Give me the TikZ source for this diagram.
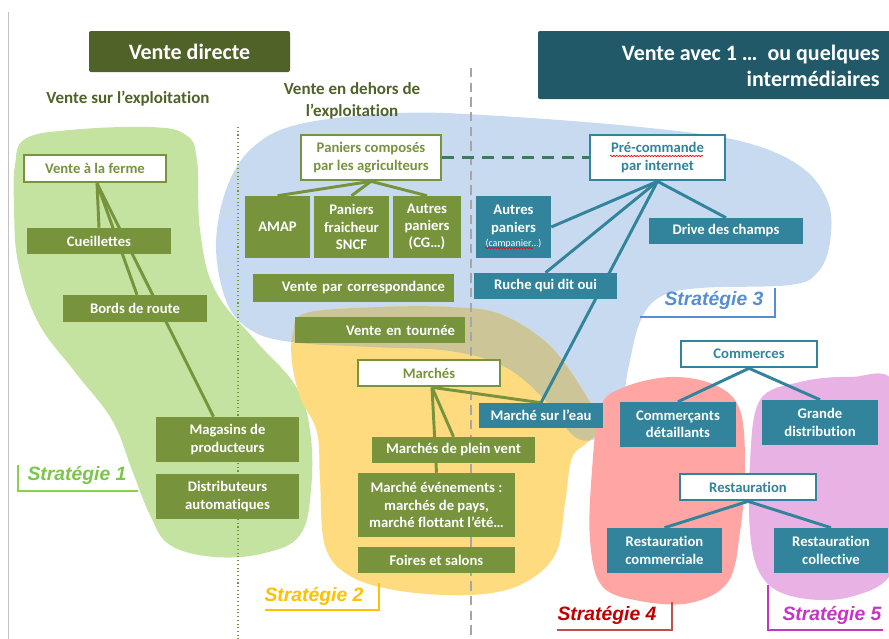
\documentclass[tikz,border=0pt]{standalone}
\usepackage{fontspec}
\setmainfont{Carlito}[Ligatures=NoCommon]
\newfontfamily\arialf{Liberation Sans}
\usetikzlibrary{calc,decorations.pathmorphing}
\pgfdeclarelayer{bg}
\pgfdeclarelayer{lines}
\pgfsetlayers{bg,lines,main}
\definecolor{olv}{HTML}{77933C}
\definecolor{olvdark}{HTML}{4F6228}
\definecolor{tl}{HTML}{31849B}
\definecolor{tldark}{HTML}{215968}
\definecolor{blobgreen}{HTML}{C4E3A1}
\definecolor{blobblue}{HTML}{C8DAF0}
\definecolor{blobyellow}{HTML}{FFDB80}
\definecolor{bloboverlap}{HTML}{CBC598}
\definecolor{blobpink}{HTML}{FFA6A5}
\definecolor{blobpurple}{HTML}{E8B2E5}
\definecolor{sA}{HTML}{7CC44A}
\definecolor{sAline}{HTML}{8CD050}
\definecolor{sB}{HTML}{FFC000}
\definecolor{sC}{HTML}{558ED5}
\definecolor{sD}{HTML}{C00000}
\definecolor{sDline}{HTML}{C0504D}
\definecolor{sE}{HTML}{C336C3}
\definecolor{greyline}{HTML}{A6A6A6}
\definecolor{dashgreen}{HTML}{3D7B5E}
\tikzset{
  wh/.style 2 args={minimum width=#1*0.75pt, minimum height=#2*0.75pt},
  base/.style={inner sep=0pt, align=center, font=\bfseries\fontsize{11}{13}\selectfont},
  obox/.style={base, fill=olv, text=white},
  tbox/.style={base, fill=tl, text=white},
  owbox/.style={base, fill=white, draw=olv, line width=2pt, text=olv},
  twbox/.style={base, fill=white, draw=tl, line width=2pt, text=tl},
  oline/.style={draw=olv, line width=2.2pt},
  tline/.style={draw=tl, line width=2.2pt},
  strat/.style={font=\arialf\bfseries\itshape\fontsize{14.5}{17}\selectfont, inner sep=0pt},
  brk/.style={line width=2pt},
  hdr/.style={font=\bfseries\fontsize{12.75}{16.5}\selectfont, text=olvdark, align=center, inner sep=0pt},
  bighdr/.style={font=\bfseries\fontsize{16.5}{19.5}\selectfont, text=white, inner sep=0pt},
  wavy/.style={draw=red, line width=0.5pt, decorate, decoration={snake, amplitude=0.5pt, segment length=2.2pt}},
}
\begin{document}
\begin{tikzpicture}[x=0.75pt,y=-0.75pt]
\useasboundingbox (0,0) rectangle (889,639);

% ---------- blobs ----------
\begin{pgfonlayer}{bg}
\fill[blobgreen] plot[smooth cycle, tension=0.65] coordinates {
 (15,165) (25,139) (70,130) (150,127) (186,135) (197,160) (200,230) (215,290)
 (255,340) (295,385) (310,430) (311,490) (300,535) (265,553) (215,557)
 (170,545) (150,515) (132,470) (112,420) (75,372) (38,322) (18,262) (14,205)};
\fill[blobblue] plot[smooth cycle, tension=0.6] coordinates {
 (216,248) (226,190) (252,148) (300,124) (400,113) (500,116) (640,127)
 (740,141) (800,166) (828,202) (830,242) (818,272) (790,285) (700,288)
 (660,297) (640,322) (628,370) (620,415) (600,437) (575,437) (545,400)
 (505,367) (450,351) (370,347) (300,343) (256,333) (228,305)};
\fill[blobyellow] plot[smooth cycle, tension=0.6] coordinates {
 (293,333) (306,313) (380,307) (450,307) (500,314) (548,344) (582,389)
 (600,426) (588,442) (572,458) (565,503) (555,555) (520,585) (470,595)
 (400,591) (350,576) (325,546) (320,480) (317,432) (300,397) (292,362)};
\begin{scope}
\clip plot[smooth cycle, tension=0.6] coordinates {
 (216,248) (226,190) (252,148) (300,124) (400,113) (500,116) (640,127)
 (740,141) (800,166) (828,202) (830,242) (818,272) (790,285) (700,288)
 (660,297) (640,322) (628,370) (620,415) (600,437) (575,437) (545,400)
 (505,367) (450,351) (370,347) (300,343) (256,333) (228,305)};
\fill[bloboverlap] plot[smooth cycle, tension=0.6] coordinates {
 (293,333) (306,313) (380,307) (450,307) (500,314) (548,344) (582,389)
 (600,426) (588,442) (572,458) (565,503) (555,555) (520,585) (470,595)
 (400,591) (350,576) (325,546) (320,480) (317,432) (300,397) (292,362)};
\end{scope}
\fill[blobpink] plot[smooth cycle, tension=0.6] coordinates {
 (600,408) (622,388) (670,377) (715,385) (740,410) (745,470) (740,532)
 (728,582) (690,603) (640,601) (602,586) (590,540) (592,470)};
\fill[blobpurple] plot[smooth cycle, tension=0.6] coordinates {
 (760,400) (800,382) (850,377) (895,385) (900,500) (892,572) (850,597)
 (800,598) (766,582) (751,542) (750,462)};
\end{pgfonlayer}

% ---------- frame line and separators ----------
\begin{pgfonlayer}{lines}
\coordinate (gl1) at (8,12);
\coordinate (gl2) at (8,639);
\draw[draw=greyline!70, line width=0.6pt] (gl1) -- (gl2);
\coordinate (dt1) at (238,127);
\coordinate (dt2) at (238,639);
\draw[olv, line width=0.8pt, dotted] (dt1) -- (dt2);
\coordinate (gd1) at (471,68);
\coordinate (gd2) at (471,639);
\draw[greyline, line width=2.2pt, dash pattern=on 7pt off 4pt] (gd1) -- (gd2);
\end{pgfonlayer}

% ---------- headers ----------
\node[fill=olvdark, rounded corners=1.5pt, wh={201}{41}, bighdr] (hdirect) at (189.5,51.5) {Vente directe};
\node[fill=tldark, rounded corners=1.5pt, wh={360}{68}, inner sep=0pt] (hinter) at (718,65) {};
\node[bighdr, align=right, anchor=east] (hintertext) at (880,66) {Vente avec 1 …\ \ ou quelques\\intermédiaires};
\node[hdr] (hsur) at (128,99) {Vente sur l’exploitation};
\node[hdr] (hdehors) at (352,101) {Vente en dehors de\\l’exploitation};

% ---------- Strategy 1 nodes ----------
\node[owbox, wh={142}{27}] (ferme) at (95,168.5) {Vente à la ferme};
\node[obox, wh={144}{26}] (cueil) at (99,241) {Cueillettes};
\node[obox, wh={144}{27}] (bords) at (135,308.5) {Bords de route};
\node[obox, wh={143}{45}] (magasins) at (227.5,439.5) {Magasins de\\producteurs};
\node[obox, wh={143}{45}] (distrib) at (227.5,496.5) {Distributeurs\\automatiques};

% ---------- Strategy 2 / 3 olive nodes ----------
\node[owbox, wh={140}{45}] (paniers) at (371,157.5) {Paniers composés\\par les agriculteurs};
\node[obox, wh={65}{62}] (amap) at (277.5,227) {AMAP};
\node[obox, wh={75}{62}] (sncf) at (351.5,227) {Paniers\\fraicheur\\SNCF};
\node[obox, wh={68}{62}] (autrescg) at (427,227) {Autres\\paniers\\(CG…)};
\node[obox, wh={201}{28}, align=right, text width=183*0.75pt, inner xsep=9*0.75pt] (corresp) at (353.5,288) {Vente par correspondance};
\node[obox, wh={170}{26}, align=right, text width=150*0.75pt, inner xsep=10*0.75pt] (tournee) at (380,330) {Vente en tournée};
\node[owbox, wh={142}{26}] (marches) at (429,373) {Marchés};
\node[obox, wh={163}{26}] (pleinvent) at (453.5,450) {Marchés de plein vent};
\node[obox, wh={157}{64}] (evenements) at (436.5,505) {Marché événements :\\marchés de pays,\\marché flottant l’été…};
\node[obox, wh={157}{26}] (foires) at (436.5,560) {Foires et salons};

% ---------- teal nodes ----------
\node[tbox, wh={124}{25}] (eau) at (541,415.5) {Marché sur l’eau};
\node[twbox, wh={135}{45}, font=\bfseries\fontsize{11}{13.5}\selectfont] (precmd) at (657.5,157.5) {Pré-commande\\par internet};
\node[tbox, wh={75}{62}] (autrest) at (513.5,227) {Autres\\paniers\\[-2pt]{\mdseries\fontsize{7.5}{9}\selectfont(campanier…)}};
\node[tbox, wh={143}{26}] (ruche) at (545.5,286) {Ruche qui dit oui};
\node[tbox, wh={154}{26}] (drive) at (726,231) {Drive des champs};
\node[twbox, wh={136}{26}] (commerces) at (749,354) {Commerces};
\node[tbox, wh={116}{45}] (detail) at (678,424.5) {Commerçants\\détaillants};
\node[tbox, wh={116}{45}] (grande) at (820,422.5) {Grande\\distribution};
\node[twbox, wh={136}{26}] (restau) at (748,487) {Restauration};
\node[tbox, wh={115}{45}] (restcomm) at (664.5,550.5) {Restauration\\commerciale};
\node[tbox, wh={114}{45}] (restcoll) at (831,550.5) {Restauration\\collective};

% spell-check wavy underlines
\coordinate (w1a) at (610,156);
\coordinate (w1b) at (703,156);
\draw[wavy] (w1a) -- (w1b);
\coordinate (w2a) at (485,248);
\coordinate (w2b) at (533,248);
\draw[wavy] (w2a) -- (w2b);

% ---------- connectors ----------
\begin{pgfonlayer}{lines}
\coordinate (fs) at ($(ferme.south)+(2,0)$);
\draw[oline] (fs) -- (cueil.north);
\draw[oline] (fs) -- ($(bords.north)+(2,0)$);
\draw[oline] (fs) -- ($(magasins.north)+(-14,0)$);
\draw[oline] (paniers.south) -- (amap.north);
\draw[oline] (paniers.south) -- (sncf.north);
\draw[oline] (paniers.south) -- (autrescg.north);
\coordinate (ms) at ($(marches.south)+(3,0)$);
\draw[oline] (ms) -- (pleinvent.north);
\draw[oline] (ms) -- (evenements.north);
\draw[oline] (ms) -- (eau.north);
\draw[dashgreen, line width=2.2pt, dash pattern=on 9pt off 6pt] (paniers.east) -- (precmd.west);
\draw[tline] (precmd.south) -- (autrest.east);
\draw[tline] (precmd.south) -- (ruche.north);
\draw[tline] (precmd.south) -- (eau.north);
\draw[tline] (precmd.south) -- (drive.north);
\draw[tline] (commerces.south) -- (detail.north);
\draw[tline] (commerces.south) -- (grande.north);
\draw[tline] (restau.south) -- (restcomm.north);
\draw[tline] (restau.south) -- (restcoll.north);
\end{pgfonlayer}

% ---------- strategy labels ----------
\node[strat, text=sA] (s1) at (77,475) {Stratégie 1};
\coordinate (s1a) at (18,465); \coordinate (s1b) at (18,491); \coordinate (s1c) at (138,491);
\draw[brk, sAline] (s1a) -- (s1b) -- (s1c);
\node[strat, text=sB] (s2) at (314,596) {Stratégie 2};
\coordinate (s2a) at (379,583); \coordinate (s2b) at (379,610); \coordinate (s2c) at (265,610);
\draw[brk, sB] (s2a) -- (s2b) -- (s2c);
\node[strat, text=sC] (s3) at (714,300) {Stratégie 3};
\coordinate (s3a) at (775,288); \coordinate (s3b) at (775,317); \coordinate (s3c) at (640,317);
\draw[brk, sC] (s3a) -- (s3b) -- (s3c);
\node[strat, text=sD] (s4) at (607,615) {Stratégie 4};
\coordinate (s4a) at (672,602); \coordinate (s4b) at (672,630); \coordinate (s4c) at (557,630);
\draw[brk, sDline] (s4a) -- (s4b) -- (s4c);
\node[strat, text=sE] (s5) at (832,615) {Stratégie 5};
\coordinate (s5a) at (768,585); \coordinate (s5b) at (768,630); \coordinate (s5c) at (883,630);
\draw[brk, sE] (s5a) -- (s5b) -- (s5c);
\end{tikzpicture}
\end{document}
